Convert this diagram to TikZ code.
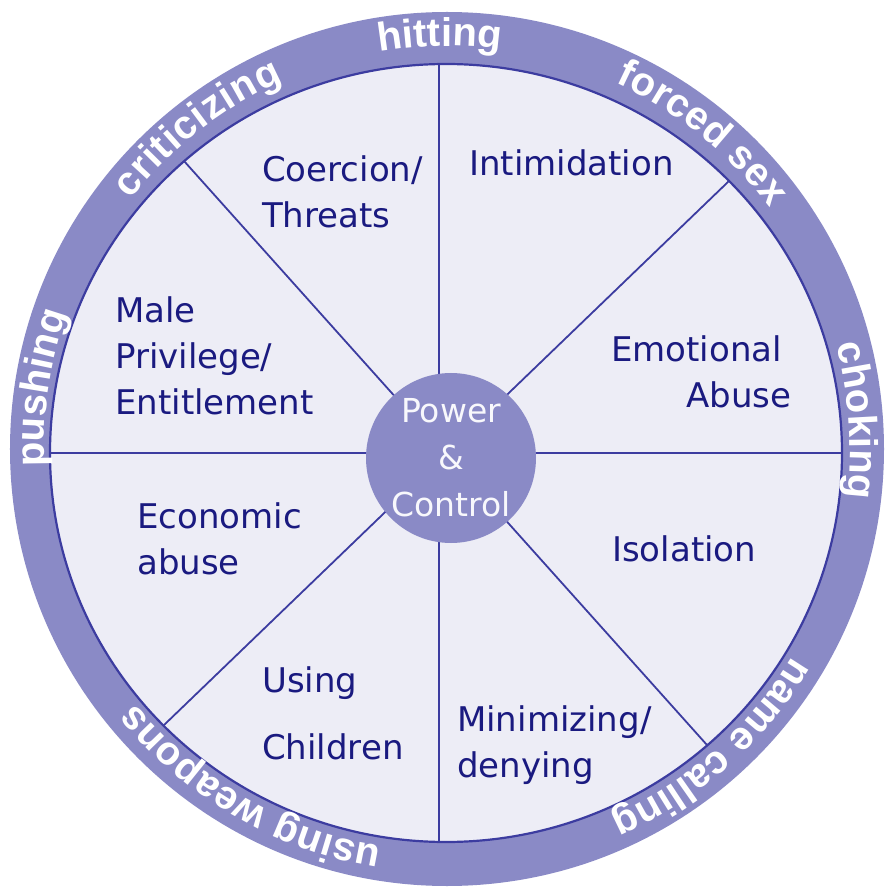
\documentclass[tikz,border=0pt]{standalone}
\usepackage{fontspec}
\setmainfont{DejaVu Sans}
\newfontfamily\ringfont{Liberation Sans}
\usetikzlibrary{decorations.text}
\definecolor{ringc}{HTML}{8A8AC6}
\definecolor{discc}{HTML}{EDEDF6}
\definecolor{navy}{HTML}{1A1A80}
\definecolor{spokec}{HTML}{3C3CA0}
\begin{document}
\begin{tikzpicture}[x=1pt,y=1pt,line join=round,font=\fontsize{34}{46}\selectfont]
	\tikzset{lab/.style={navy,anchor=base west,align=left,inner sep=0pt},
		spoke/.style={spokec,line width=1.8pt}}
	\useasboundingbox (-446,-435) rectangle (442,453);
	\coordinate (rc) at (1,4);
	\fill[ringc] (rc) circle (437);
	\fill[discc] (0,0) ellipse [x radius=396,y radius=389];
	%--------- Nan hoa
	\coordinate (t) at (-7,389); \coordinate (b) at (-7,-389);
	\coordinate (l) at (-396,0); \coordinate (r) at (396,0);
	\coordinate (ul) at (-262,292); \coordinate (lr) at (261,-292);
	\coordinate (ur) at (283,272); \coordinate (ll) at (-283,-273);
	\draw[spoke] (t)--(b) (l)--(r) (ul)--(lr) (ur)--(ll);
	\draw[spokec,line width=2.2pt] (0,0) ellipse [x radius=396,y radius=389];
	\node[circle,fill=ringc,minimum size=170pt,inner sep=0pt,align=center,text=white!94!ringc,font=\fontsize{33}{47}\selectfont] (pc) at (5,-5) {Power\\\&\\Control};
	%--------- Nhan (base = dong cuoi)
	\node[lab] (coer) at (-184,225) {Coercion/\\Threats};
	\node[lab] (intim) at (23,277) {Intimidation};
	\node[lab] (male) at (-331,38) {Male\\Privilege/\\Entitlement};
	\node[lab] (emo) at (165,45) {Emotional\\\hspace*{75pt}Abuse};
	\node[lab] (econ) at (-309,-121) {Economic\\abuse};
	\node[lab] (iso) at (166,-108) {Isolation};
	\node[lab] (using) at (-184,-306) {Using\\[21pt]Children};
	\node[lab] (mini) at (11,-324) {Minimizing/\\denying};
	%--------- Vanh ngoai
	\def\ringword#1#2#3{\path[decorate,decoration={text along path,text color=white,text align={fit to path},
		text={|\ringfont\bfseries\fontsize{40}{40}\selectfont|#3}}] ([shift={(#1:403)}]rc) arc[start angle=#1,end angle=#2,radius=403];}
	\ringword{99.7}{82.3}{hitting}
	\ringword{141.8}{114}{criticizing}
	\ringword{182.5}{160.5}{pushing}
	\ringword{65.3}{36.7}{forced sex}
	\ringword{15}{-7}{choking}
	\ringword{-31}{-66}{name calling}
	\ringword{260.7}{219.2}{using weapons}
\end{tikzpicture}
\end{document}
